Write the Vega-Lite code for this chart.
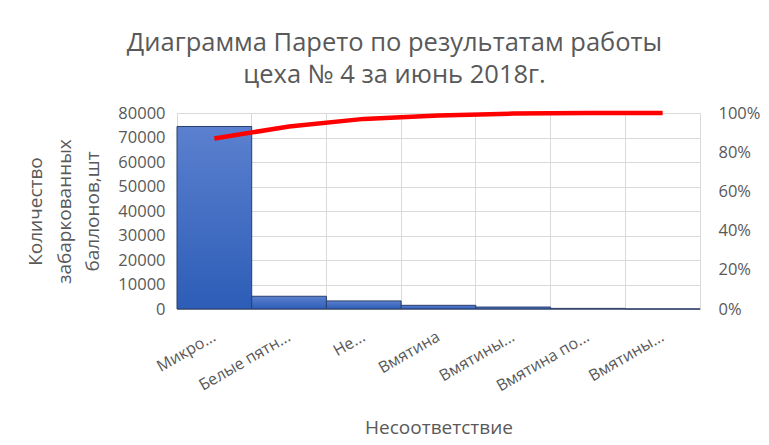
{
  "$schema": "https://vega.github.io/schema/vega-lite/v6.json",
  "width": 523,
  "height": 196,
  "autosize": "none",
  "padding": {"left": 177, "top": 113, "right": 69, "bottom": 136},
  "background": "white",
  "config": {
    "font": "Open Sans",
    "view": {"stroke": "#D9D9D9", "strokeWidth": 1},
    "axis": {"labelColor": "#595959", "titleColor": "#595959", "titleFontWeight": "normal"}
  },
  "title": {
    "text": ["Диаграмма Парето по результатам работы", "цеха № 4 за июнь 2018г."],
    "fontSize": 25.5,
    "fontWeight": "normal",
    "color": "#595959",
    "anchor": "middle",
    "frame": "group",
    "dx": -44,
    "lineHeight": 32,
    "offset": 16
  },
  "data": {
    "values": [
      {"key": "1|Микро...", "count": 74500, "cum": 0.870},
      {"key": "2|Белые пятн...", "count": 5200, "cum": 0.931},
      {"key": "3|Не...", "count": 3300, "cum": 0.970},
      {"key": "4|Вмятина", "count": 1500, "cum": 0.987},
      {"key": "5|Вмятины...", "count": 800, "cum": 0.997},
      {"key": "6|Вмятина по...", "count": 250, "cum": 0.9994},
      {"key": "7|Вмятины...", "count": 50, "cum": 1.0}
    ]
  },
  "layer": [
    {
      "mark": {
        "type": "bar",
        "stroke": "#2B3F6B",
        "strokeWidth": 1,
        "color": {
          "gradient": "linear",
          "x1": 0, "y1": 0, "x2": 0, "y2": 1,
          "stops": [
            {"offset": 0, "color": "#5B80CF"},
            {"offset": 1, "color": "#2D5DB7"}
          ]
        }
      },
      "encoding": {
        "x": {
          "field": "key",
          "type": "nominal",
          "sort": null,
          "scale": {"paddingInner": 0, "paddingOuter": 0},
          "axis": {
            "title": "Несоответствие",
            "titleFontSize": 19,
            "titlePadding": 25,
            "labelExpr": "split(datum.label, '|')[1]",
            "labelAngle": -30,
            "labelAlign": "right",
            "labelBaseline": "middle",
            "labelFontSize": 16,
            "labelPadding": 26,
            "labelLimit": 200,
            "ticks": false,
            "grid": false,
            "domainColor": "#A6A6A6"
          }
        },
        "y": {
          "field": "count",
          "type": "quantitative",
          "scale": {"domain": [0, 80000]},
          "axis": {
            "title": ["Количество", "забаркованных", "баллонов,шт"],
            "titleFontSize": 19,
            "titleLineHeight": 28.5,
            "titlePadding": 15,
            "values": [0, 10000, 20000, 30000, 40000, 50000, 60000, 70000, 80000],
            "format": "d",
            "labelFontSize": 16.5,
            "labelPadding": 12,
            "ticks": false,
            "domain": false,
            "grid": true,
            "gridColor": "#D9D9D9"
          }
        }
      }
    },
    {
      "mark": {"type": "line", "color": "#FF0000", "strokeWidth": 4.5},
      "encoding": {
        "x": {
          "field": "key",
          "type": "nominal",
          "sort": null,
          "axis": {
            "title": null,
            "labels": false,
            "ticks": false,
            "domain": false,
            "grid": true,
            "gridColor": "#D9D9D9",
            "bandPosition": 0
          }
        },
        "y": {
          "field": "cum",
          "type": "quantitative",
          "scale": {"domain": [0, 1]},
          "axis": {
            "orient": "right",
            "title": null,
            "values": [0, 0.2, 0.4, 0.6, 0.8, 1],
            "format": ".0%",
            "labelFontSize": 16.5,
            "labelPadding": 18,
            "ticks": false,
            "domain": false,
            "grid": false
          }
        }
      }
    }
  ],
  "resolve": {"scale": {"y": "independent"}, "axis": {"x": "independent"}}
}
